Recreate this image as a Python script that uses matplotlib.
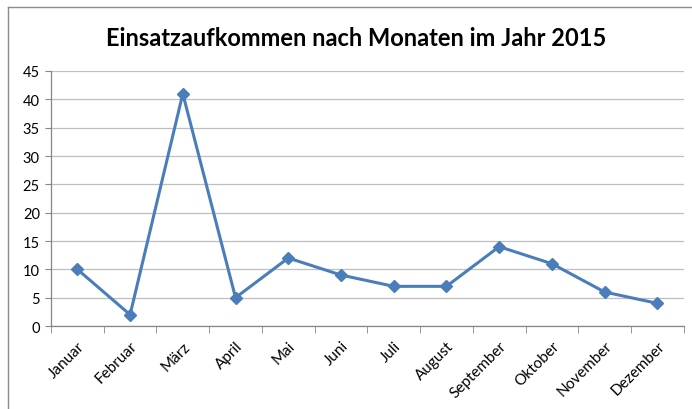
import matplotlib.pyplot as plt
from matplotlib.lines import Line2D

months = ['Januar', 'Februar', 'März', 'April', 'Mai', 'Juni', 'Juli',
          'August', 'September', 'Oktober', 'November', 'Dezember']
einsaetze = [10, 2, 41, 5, 12, 9, 7, 7, 14, 11, 6, 4]
y_ticks = [0, 5, 10, 15, 20, 25, 30, 35, 40, 45]

plt.rcParams['font.family'] = ['Lato', 'DejaVu Sans']

fig = plt.figure(figsize=(6.92, 4.10), dpi=100)
ax = fig.add_axes([0.0737, 0.2024, 0.9143, 0.622])

x = list(range(len(months)))
ax.plot(x, einsaetze, color='#4A7EBB', linewidth=2.2, marker='D',
        markersize=6.5, zorder=3)

ax.set_xlim(-0.5, len(months) - 0.5)
ax.set_ylim(0, 45)
ax.set_yticks(y_ticks)
ax.set_xticks(x)
ax.set_xticklabels(months, rotation=45, ha='right', rotation_mode='anchor',
                   fontsize=11)
ax.set_xticks([i - 0.5 for i in range(len(months) + 1)], minor=True)
ax.tick_params(axis='x', which='major', length=0, pad=9)
ax.tick_params(axis='x', which='minor', length=5, color='#868686')
ax.tick_params(axis='y', length=4, color='#868686', labelsize=10.5, pad=4)

ax.grid(True, axis='y', color='#BFBFBF', linewidth=0.9)
ax.set_axisbelow(True)
for side in ['top', 'right']:
    ax.spines[side].set_visible(False)
for side in ['left', 'bottom']:
    ax.spines[side].set_color('#868686')
    ax.spines[side].set_linewidth(0.9)

fig.text(0.515, 0.905, 'Einsatzaufkommen nach Monaten im Jahr 2015',
         ha='center', va='center', fontsize=17, fontweight='bold')

# chart border (cut off on the right and bottom)
bx = 8 / 692
by = 1 - 8 / 410
fig.add_artist(Line2D([bx, bx], [0, by], color='#8C8C8C', linewidth=1,
                      transform=fig.transFigure))
fig.add_artist(Line2D([bx, 1], [by, by], color='#8C8C8C', linewidth=1,
                      transform=fig.transFigure))

fig.savefig('out.png', dpi=100)
